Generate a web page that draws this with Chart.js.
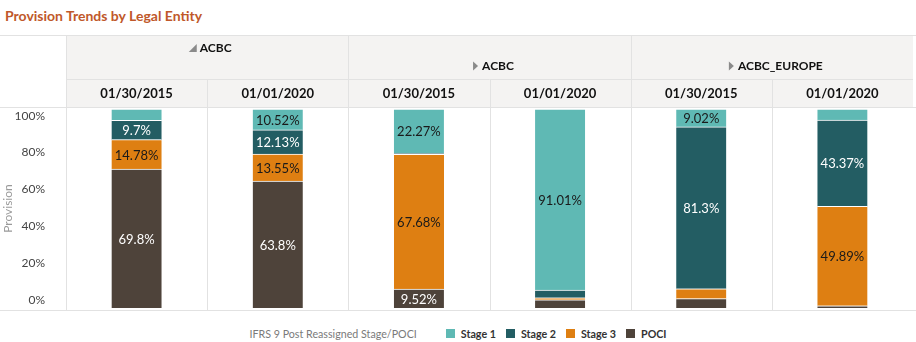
<!DOCTYPE html>
<html>
<head>
<meta charset="utf-8">
<script src="https://cdn.jsdelivr.net/npm/chart.js@4.4.1/dist/chart.umd.min.js"></script>
<style>
  body { margin: 0; background: #fff; font-family: Lato, sans-serif; }
  #wrap { position: relative; width: 916px; height: 342px; overflow: hidden; }
  #title { position: absolute; left: 5px; top: 0; height: 32px; line-height: 32px; font-size: 14px; font-weight: bold; color: #c0582a; }
  #topline { position: absolute; left: 0; top: 35px; width: 916px; height: 1px; background: #e2e2e2; }
  #myChart { position: absolute; left: 0; top: 36px; }
  #legend { position: absolute; left: 0; top: 325px; width: 916px; height: 16px; display: flex; justify-content: center; align-items: center; font-size: 10.7px; }
  #legend .lt { color: #7a7a7a; margin-right: 29px; }
  #legend .sw { display: inline-block; width: 9px; height: 9px; margin-right: 6px; }
  #legend .li { color: #333; font-weight: bold; margin-right: 10px; }
  #legend .li:last-child { margin-right: 0; }
</style>
</head>
<body>
<div id="wrap">
  <div id="title">Provision Trends by Legal Entity</div>
  <div id="topline"></div>
  <canvas id="myChart" width="916" height="276"></canvas>
  <div id="legend"></div>
</div>
<script>
//Data:
const categories = ['01/30/2015', '01/01/2020', '01/30/2015', '01/01/2020', '01/30/2015', '01/01/2020'];
const groupNames = ['ACBC', 'ACBC', 'ACBC_EUROPE'];
const groupSizes = [2, 2, 2];
const groupOpen = [true, false, false];

const seriesNames = ['Stage 1', 'Stage 2', 'Stage 3', 'POCI'];
const stage1 = [5.72, 10.52, 22.27, 91.01, 9.02, 5.6];
const stage2 = [9.7, 12.13, 0.53, 3.9, 81.3, 43.37];
const stage3 = [14.78, 13.55, 67.68, 1.0, 5.0, 49.89];
const poci = [69.8, 63.8, 9.52, 4.09, 4.68, 1.14];
const yTicks = [0, 20, 40, 60, 80, 100];

const legendTitle = 'IFRS 9 Post Reassigned Stage/POCI';
const seriesColors = ['#5fb9b4', '#235d63', '#de7f12', '#4e433a'];
const labelColors = ['#1a1a1a', '#ffffff', '#1a1a1a', '#ffffff'];
const seriesData = [stage1, stage2, stage3, poci];

//Legend in HTML:
document.getElementById('legend').innerHTML =
    `<span class="lt">${legendTitle}</span>` +
    seriesNames.map((n, i) => `<span class="sw" style="background:${seriesColors[i]}"></span><span class="li">${n}</span>`).join('');

//Header background, separators and group labels:
const headerGrid = {
    id: 'headerGrid',
    beforeDraw(chart) {
        const {ctx, chartArea} = chart;
        ctx.save();
        ctx.fillStyle = '#f4f3f2';
        ctx.fillRect(chartArea.left, 0, chartArea.right - chartArea.left, chartArea.top - 1);
        ctx.restore();
    },
    beforeDatasetsDraw(chart) {
        const {ctx, chartArea, scales: {x}} = chart;
        const w = x.width / categories.length;
        const bottomY = chartArea.bottom + 2.5;
        const rowY = chartArea.top - 29.5;
        ctx.save();
        ctx.strokeStyle = '#e2e2e2';
        ctx.lineWidth = 1;
        ctx.beginPath();
        ctx.moveTo(chartArea.left, rowY);
        ctx.lineTo(chartArea.right, rowY);
        ctx.moveTo(0, chartArea.top - 1.5);
        ctx.lineTo(chart.width, chartArea.top - 1.5);
        ctx.moveTo(0, bottomY);
        ctx.lineTo(chart.width, bottomY);

        let idx = 0;
        const groupStarts = [];
        groupSizes.forEach(n => { groupStarts.push(idx); idx += n; });
        for (let i = 0; i < categories.length; i++) {
            const px = Math.round(x.left + i * w) + 0.5;
            const top = groupStarts.includes(i) ? 0 : rowY;
            ctx.moveTo(px, top);
            ctx.lineTo(px, bottomY);
        }
        ctx.stroke();

        //Group labels
        ctx.font = 'bold 12px Lato';
        ctx.textBaseline = 'middle';
        ctx.textAlign = 'left';
        groupNames.forEach((name, g) => {
            const left = x.left + groupStarts[g] * w;
            const cx = left + groupSizes[g] * w / 2;
            const tw = ctx.measureText(name).width;
            const sx = cx - (11 + tw) / 2 + 3;
            const cy = groupOpen[g] ? 12 : 30;
            ctx.fillStyle = '#8a8a8a';
            ctx.beginPath();
            if (groupOpen[g]) {
                ctx.moveTo(sx + 8, cy - 4);
                ctx.lineTo(sx + 8, cy + 4);
                ctx.lineTo(sx, cy + 4);
            } else {
                ctx.moveTo(sx + 2, cy - 4.5);
                ctx.lineTo(sx + 7, cy);
                ctx.lineTo(sx + 2, cy + 4.5);
            }
            ctx.closePath();
            ctx.fill();
            ctx.fillStyle = '#111';
            ctx.fillText(name, sx + 11, cy);
        });
        ctx.restore();
    }
};

//Value labels inside the segments:
const segmentLabels = {
    id: 'segmentLabels',
    afterDatasetsDraw(chart) {
        const ctx = chart.ctx;
        ctx.save();
        ctx.font = '13px Lato';
        ctx.textAlign = 'center';
        ctx.textBaseline = 'middle';
        chart.data.datasets.forEach((ds, di) => {
            chart.getDatasetMeta(di).data.forEach((bar, i) => {
                const v = ds.data[i];
                if (v < 9) return;
                ctx.fillStyle = ds.labelColor;
                ctx.fillText(v + '%', bar.x, (bar.y + bar.base) / 2 + 1);
            });
        });
        ctx.restore();
    }
};

//Bottom of the stack first:
const datasets = seriesNames.map((name, i) => ({
    label: name,
    data: seriesData[i],
    backgroundColor: seriesColors[i],
    labelColor: labelColors[i],
    borderColor: '#ffffff',
    borderWidth: {top: 1, right: 0, bottom: 0, left: 0},
    borderSkipped: false,
    barThickness: 50
})).reverse();

const ctx = document.getElementById('myChart').getContext('2d');

const chart = new Chart(ctx, {
    type: 'bar',
    data: {
        labels: categories,
        datasets: datasets
    },
    options: {
        responsive: false,
        animation: false,
        layout: { padding: { top: 44, right: 3, bottom: 4, left: 0 } },
        plugins: {
            legend: { display: false },
            tooltip: { enabled: false }
        },
        scales: {
            x: {
                position: 'top',
                stacked: true,
                grid: { display: false },
                border: { display: false },
                ticks: { color: '#111', font: { family: 'Lato', size: 13, weight: 'bold' }, padding: -1, maxRotation: 0 },
                afterFit: s => { s.height = 29; s.paddingTop = 0; s.paddingBottom = 0; }
            },
            y: {
                stacked: true,
                min: 0,
                max: 100,
                display: false
            },
            y1: {
                position: 'left',
                min: -4.34,
                max: 103.6,
                grid: { display: false },
                border: { display: false },
                title: { display: true, text: 'Provision', color: '#9a9a9a', font: { family: 'Lato', size: 12 }, padding: { top: 1, bottom: 0 } },
                ticks: { color: '#444', font: { family: 'Lato', size: 12 }, padding: 13, callback: v => v + '%' },
                afterBuildTicks: s => { s.ticks = yTicks.map(v => ({value: v})); },
                afterFit: s => { s.width = 66; s.paddingTop = 0; s.paddingBottom = 0; }
            }
        }
    },
    plugins: [headerGrid, segmentLabels]
});
</script>
</body>
</html>
